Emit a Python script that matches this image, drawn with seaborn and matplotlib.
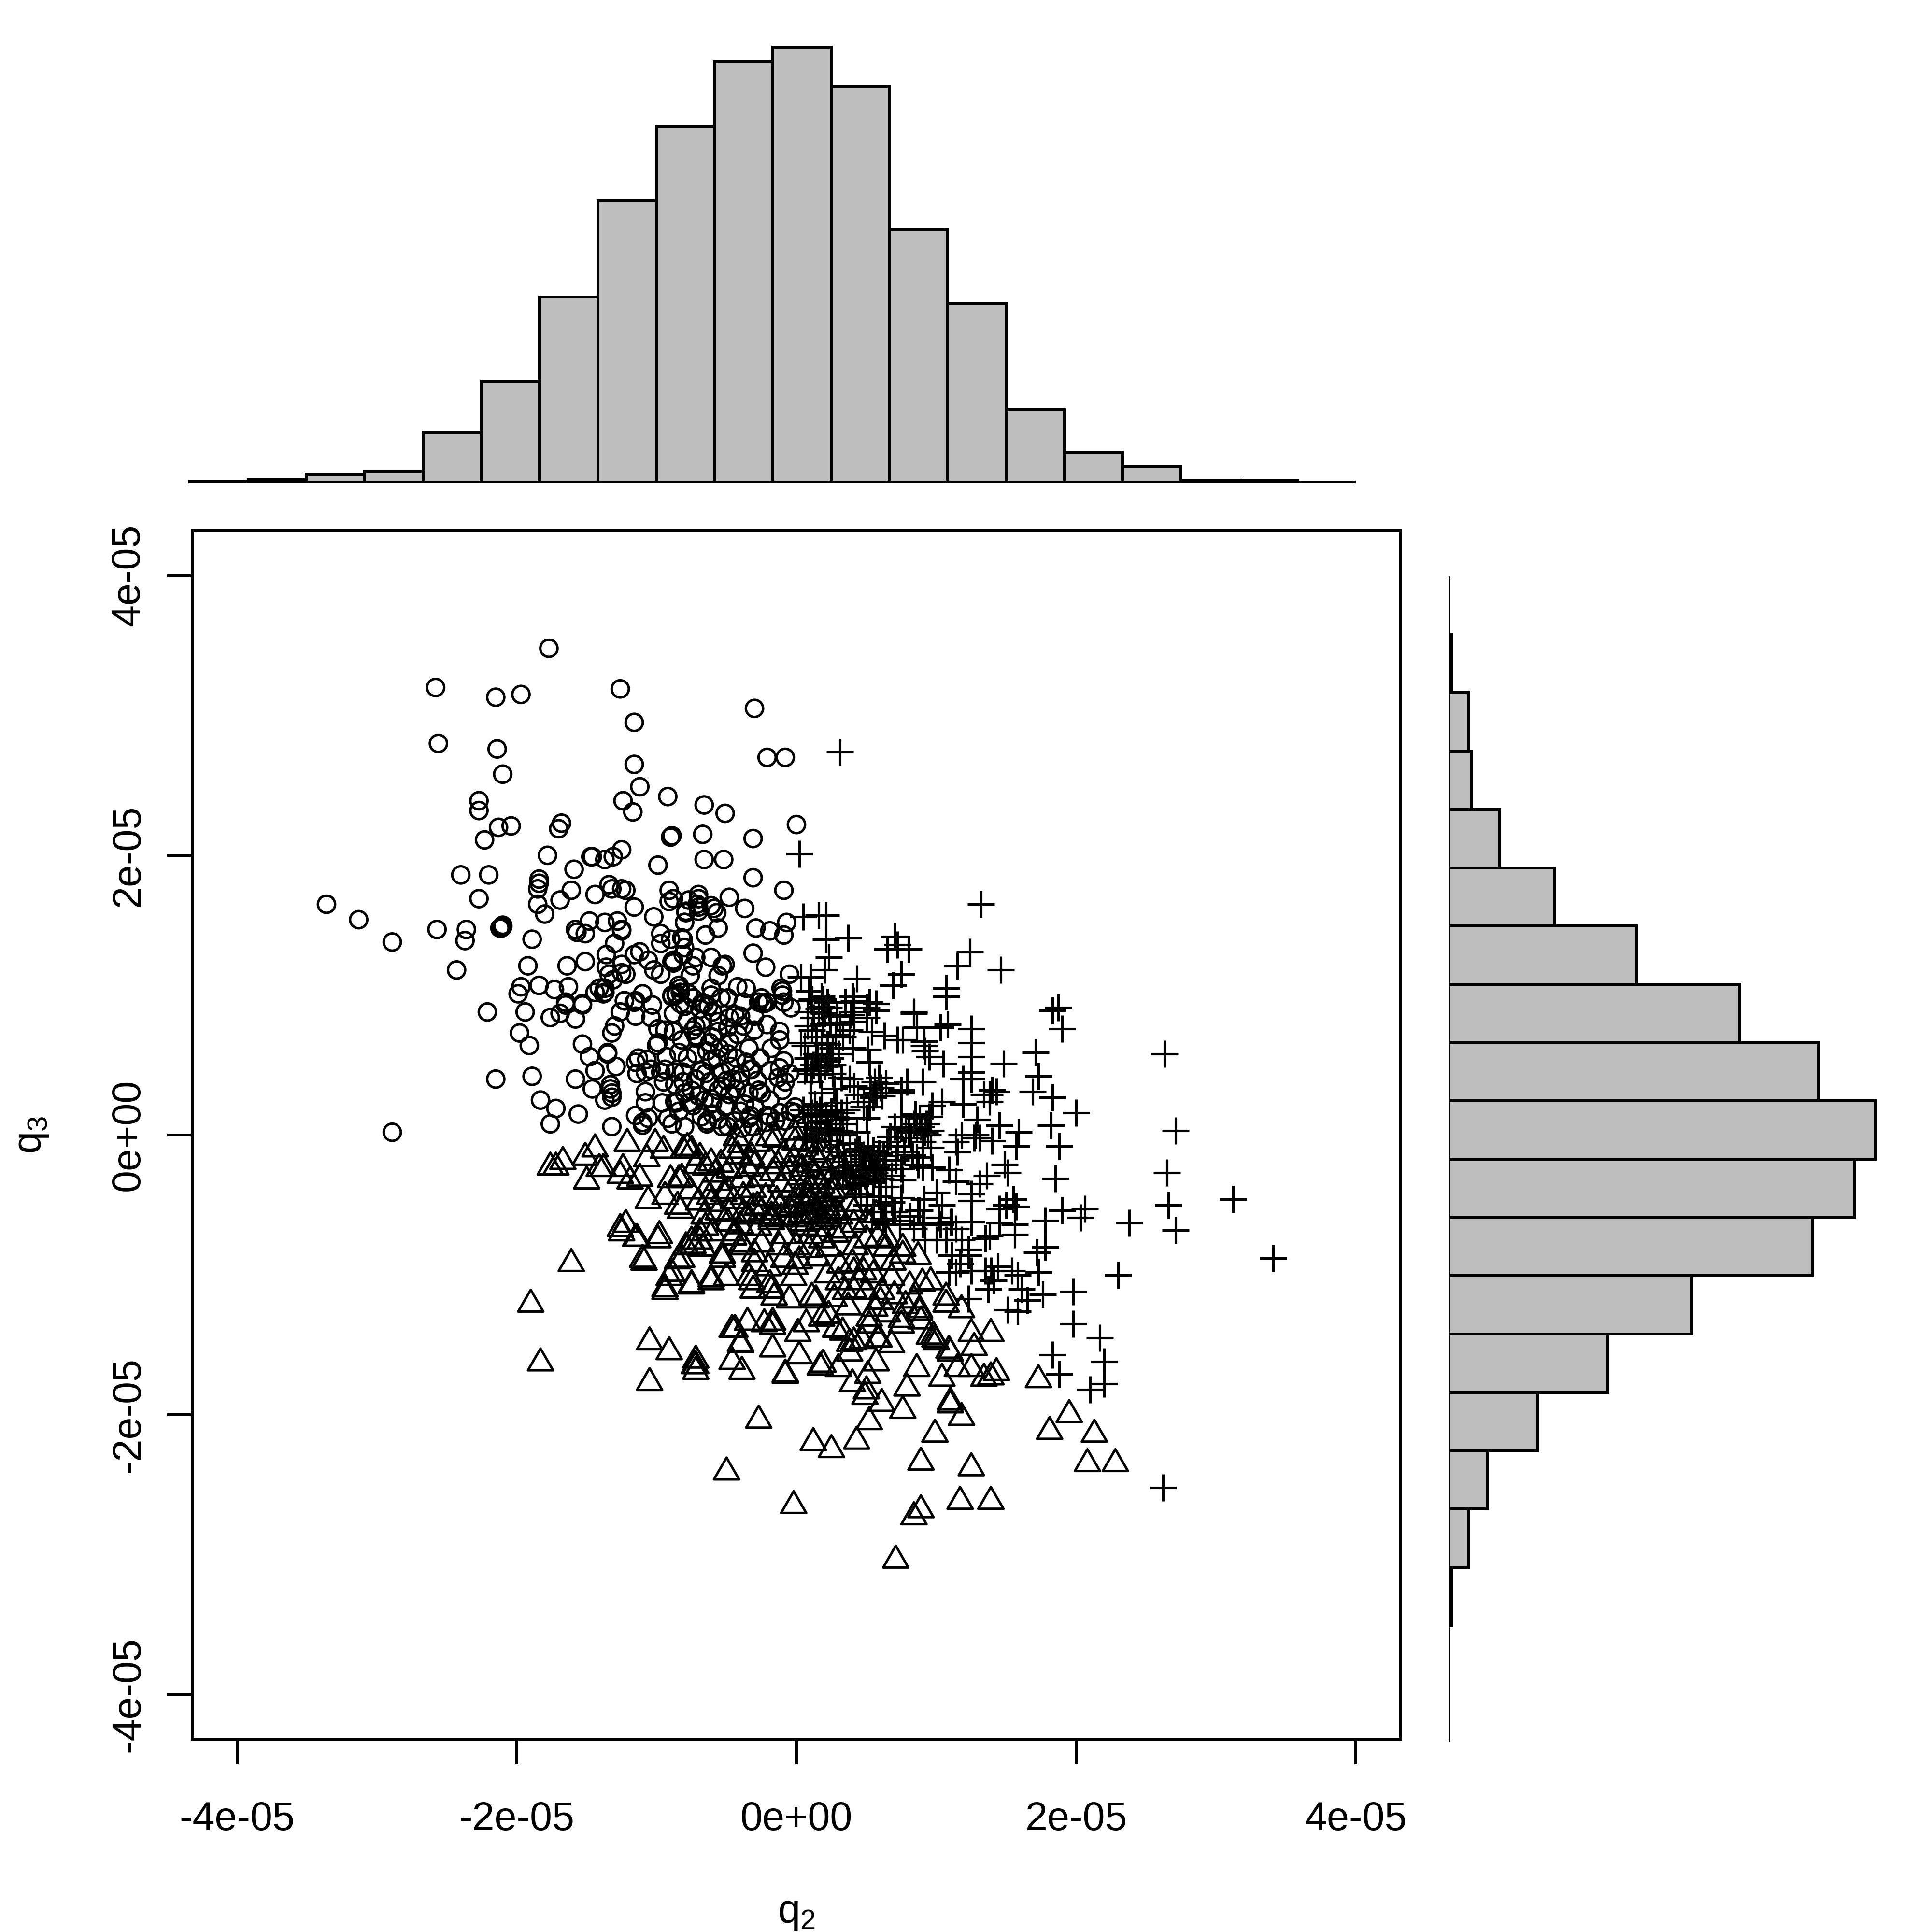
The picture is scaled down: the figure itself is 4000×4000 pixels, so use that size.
import matplotlib
import matplotlib.pyplot as plt
import seaborn as sns
import pandas as pd
import numpy as np
from matplotlib.path import Path

matplotlib.use('Agg')

# points, (q2, q3) in units of 1e-5
circles = [
    (-1.77,3.48),(-2.58,3.20),(-2.15,3.13),(-1.97,3.15),(-1.26,3.19),(-1.16,2.95),(-2.56,2.80),(-2.14,2.76),
    (-2.10,2.58),(-1.16,2.65),(-1.12,2.49),(-0.92,2.42),(-1.24,2.39),(-1.17,2.31),(-2.27,2.39),(-2.27,2.32),
    (-2.13,2.20),(-2.04,2.21),(-2.23,2.11),(-1.68,2.23),(-1.70,2.19),(-0.90,2.13),(-1.78,2.00),(-1.46,1.99),
    (-1.47,1.99),(-1.37,1.97),(-1.31,1.99),(-1.25,2.04),(-0.99,1.93),(-1.59,1.90),(-2.40,1.86),(-2.20,1.86),
    (-1.84,1.83),(-1.84,1.80),(-1.85,1.76),(-1.61,1.75),(-1.34,1.79),(-1.32,1.76),(-1.25,1.76),(-1.22,1.75),
    (-1.44,1.72),(-1.69,1.68),(-2.27,1.69),(-0.91,1.75),(-0.88,1.69),(-0.91,1.67),(-1.16,1.63),(-1.85,1.65),
    (-1.80,1.58),(-1.02,1.56),(-3.36,1.65),(-3.13,1.54),(-2.89,1.38),(-2.57,1.47),(-2.36,1.47),(-2.37,1.39),
    (-2.10,1.50),(-2.11,1.48),(-2.12,1.48),(-2.10,1.49),(-1.89,1.40),(-1.48,1.53),(-1.37,1.52),(-1.28,1.53),
    (-1.58,1.47),(-1.57,1.45),(-1.51,1.44),(-1.25,1.47),(-1.25,1.46),(-1.30,1.37),(-0.97,1.44),(-0.97,1.37),
    (-0.90,1.40),(-0.81,1.40),(-0.80,1.52),(-0.79,1.60),(-1.12,1.31),(-1.16,1.29),(-1.36,1.29),(-1.06,1.25),
    (-1.36,1.20),(-1.25,1.22),(-1.51,1.24),(-1.64,1.21),(-1.92,1.21),(-2.43,1.18),(-0.88,1.25),(-0.88,1.23),
    (-0.89,1.24),(-1.02,1.18),(-0.97,1.15),(-1.22,1.15),(-1.25,1.16),(-1.34,1.15),(-1.31,1.11),(-1.37,1.05),
    (-1.41,1.05),(-1.37,1.02),(-1.97,1.06),(-1.99,1.01),(-1.84,1.07),(-1.73,1.04),(-1.63,1.06),(-0.84,1.07),
    (-0.89,1.00),(-0.86,1.01),(-0.83,1.02),(-1.10,1.01),(-1.23,0.96),(-1.16,0.95),(-1.65,0.95),(-1.53,0.94),
    (-2.21,0.88),(-1.94,0.88),(-1.76,0.84),(-1.69,0.87),(-1.65,0.93),(-1.53,0.93),(-1.58,0.83),(-1.98,0.73),
    (-1.91,0.64),(-1.53,0.65),(-1.48,0.56),(-1.35,0.59),(-1.35,0.58),(-1.29,0.49),(-1.44,0.46),(-1.58,0.40),
    (-2.15,0.40),(-1.89,0.42),(-1.46,0.33),(-1.33,0.36),(-1.33,0.33),(-1.32,0.30),(-1.32,0.27),(-1.37,0.25),
    (-1.83,0.25),(-1.72,0.19),(-1.56,0.15),(-1.76,0.08),(-1.32,0.06),(-1.15,0.14),(-1.06,0.12),(-1.10,0.07),
    (-1.10,0.09),(-1.08,0.23),(-1.08,0.31),(-0.92,0.12),(-0.89,0.08),(-0.80,0.06),(-0.96,0.23),(-0.87,0.24),
    (-0.86,0.23),(-0.74,0.21),(-0.77,0.23),(-0.64,0.08),(-0.64,0.10),(-0.61,0.26),(-0.66,0.25),(-0.60,0.23),
    (-0.53,0.35),(-0.51,0.20),(-0.53,0.06),(-1.30,0.78),(-1.32,0.73),(-1.23,0.96),(-1.26,0.88),(-1.15,0.85),
    (-1.15,0.96),(-1.04,0.84),(-1.03,0.93),(-0.99,0.76),(-0.88,0.74),(-0.88,0.87),(-1.00,0.64),(-0.99,0.66),
    (-0.84,0.59),(-0.93,0.56),(-1.13,0.55),(-1.07,0.54),(-1.15,0.52),(-1.14,0.44),(-1.08,0.45),(-1.04,0.47),
    (-0.97,0.45),(-0.94,0.47),(-0.95,0.38),(-0.87,0.36),(-0.81,0.45),(-0.87,0.45),(-0.81,0.38),(-0.72,0.78),
    (-0.72,0.71),(-0.71,0.69),(-0.74,0.75),(-0.56,0.74),(-0.56,0.81),(-0.65,0.44),(-0.68,0.46),(-0.61,0.53),
    (-0.57,0.55),(-0.86,1.00),(-0.89,0.99),(-0.74,0.98),(-0.63,0.92),(-0.66,0.94),(-0.69,0.90),(-1.38,1.01),
    (-1.44,1.02),(-0.30,3.05),(-0.21,2.70),(-0.08,2.70),(-0.66,2.36),(-0.51,2.30),(0.00,2.22),(-0.67,2.15),
    (-0.31,2.12),(-0.66,1.97),(-0.52,1.97),(-0.31,1.84),(-0.09,1.75),(-0.89,2.14),(-0.70,1.72),(-0.70,1.69),
    (-0.71,1.65),(-0.77,1.68),(-0.70,1.60),(-0.70,1.63),(-0.48,1.70),(-0.37,1.62),(-0.61,1.64),(-0.59,1.62),
    (-0.57,1.59),(-0.79,1.59),(-0.80,1.52),(-0.29,1.48),(-0.19,1.46),(-0.09,1.43),(-0.07,1.52),(-0.56,1.48),
    (-0.65,1.43),(-0.82,1.41),(-0.31,1.30),(-0.22,1.20),(-0.05,1.15),(-0.61,1.27),(-0.51,1.22),(-0.53,1.21),
    (-0.56,1.14),(-0.72,1.27),(-0.74,1.21),(-0.76,1.14),(-0.81,1.29),(-0.80,1.34),(-0.42,1.06),(-0.36,1.05),
    (-0.61,1.05),(-0.61,1.00),(-0.54,0.98),(-0.68,0.94),(-0.77,1.01),(-0.83,1.05),(-0.83,0.94),(-0.11,1.05),
    (-0.10,1.03),(-0.10,1.00),(-0.27,0.95),(-0.24,0.94),(-0.21,0.95),(-0.04,0.91),(-0.09,0.95),(-0.23,0.94),
    (-0.25,0.98),(-0.38,0.95),(-0.40,0.85),(-0.21,0.79),(-0.12,0.74),(-0.12,0.68),(-0.49,0.98),(-0.49,0.77),
    (-0.34,0.62),(-0.18,0.62),(-0.48,0.67),(-0.49,0.58),(-0.33,0.47),(-0.32,0.47),(-0.47,0.49),(-0.09,0.53),
    (-0.12,0.48),(-0.08,0.38),(-0.10,0.32),(-0.05,0.44),(-0.27,0.32),(-0.43,0.33),(-0.48,0.29),(-0.01,0.16),
    (-0.04,0.17),(-0.01,0.20),(-0.21,0.14),(-0.19,0.13),(-0.34,0.12),(-0.33,0.14),(-0.40,0.17),(-0.49,0.06),
    (-0.50,0.21),(-0.22,0.09),(-0.31,0.06),(-0.39,0.05),(-0.25,0.30),(-0.28,0.39),(-0.50,0.39),(-0.41,0.39),
    (-0.19,0.46),(-0.13,0.41),(-0.19,0.25),(-2.89,0.02),(-0.62,0.66),(-0.55,0.62),(-0.60,0.70),(-0.42,0.72),
    (-0.38,0.78),(-0.30,0.85),(-0.44,0.86),(-0.30,0.75),(-0.26,0.55),(-0.36,0.52),(-0.43,0.55),(-0.54,0.45),
    (-0.40,0.44),(-0.46,0.40),(-0.56,0.32),(-0.62,0.38),(-0.34,0.30),(-0.37,0.22),(-0.44,0.10),(-0.30,0.20),
    (-0.15,0.10),(-0.12,0.16),(-0.08,0.10),(-0.72,0.40),(-0.75,0.32),(-0.70,0.28),(-0.80,0.30),(-0.84,0.17),
    (-0.60,0.15),(-0.68,0.13),(-0.56,0.11),(-0.72,0.58),(-0.78,0.55),(-0.82,0.68),(-0.64,0.60),(-0.67,0.82),
    (-0.48,0.84),(-0.60,0.88),(-0.94,0.75),(-0.78,0.82),(-0.80,0.92),
]

triangles = [
    (-1.76,-0.23),(-1.72,-0.23),(-1.67,-0.19),(-1.51,-0.16),(-1.44,-0.10),(-1.41,-0.24),(-1.38,-0.24),(-1.50,-0.33),
    (-1.21,-0.06),(-1.01,-0.06),(-0.95,-0.11),(-1.07,-0.17),(-1.24,-0.24),(-1.26,-0.29),(-1.19,-0.33),(-1.12,-0.31),
    (-1.06,-0.47),(-0.94,-0.44),(-0.90,-0.32),(-0.84,-0.32),(-0.82,-0.31),(-0.85,-0.51),(-0.83,-0.54),(-0.78,-0.09),
    (-0.81,-0.11),(-0.75,-0.11),(-0.69,-0.16),(-0.65,-0.23),(-0.61,-0.20),(-0.65,-0.40),(-0.62,-0.44),(-0.61,-0.49),
    (-0.56,-0.34),(-1.22,-0.64),(-1.26,-0.67),(-1.25,-0.70),(-1.14,-0.74),(-0.99,-0.75),(-0.65,-0.66),(-0.69,-0.70),
    (-1.61,-0.92),(-1.90,-1.21),(-1.83,-1.63),(-1.09,-0.91),(-1.15,-0.74),(-0.79,-0.80),(-0.85,-0.90),(-0.91,-1.02),
    (-0.94,-1.12),(-0.75,-1.08),(-0.61,-1.05),(-0.69,-0.76),(-0.74,-0.79),(-0.53,-0.89),(-0.53,-0.86),(-1.05,-1.48),
    (-0.91,-1.55),(-0.72,-1.65),(-0.72,-1.69),(-0.73,-1.65),(-1.05,-1.77),(-0.46,-1.62),(-0.39,-1.69),(-0.44,-1.39),
    (-0.35,-1.34),(-0.40,-1.49),(-0.50,-2.41),(-0.27,-2.04),(0.12,-2.20),(0.25,-2.25),(0.43,-2.19),(0.52,-2.05),
    (0.61,-1.92),(0.76,-1.97),(0.99,-2.14),(0.86,-1.67),(0.79,-1.81),(1.04,-1.74),(1.10,-1.91),(1.10,-1.93),
    (1.18,-2.02),(0.57,-1.63),(0.40,-1.78),(0.51,-1.72),(0.49,-1.87),(0.50,-1.83),(0.30,-1.67),(0.19,-1.64),
    (0.17,-1.66),(-0.08,-1.72),(0.02,-1.58),(-0.17,-1.53),(-0.40,-1.50),(-0.46,-1.39),(-0.17,-1.37),(-0.23,-1.35),
    (-0.17,-1.34),(0.01,-1.42),(0.33,-1.41),(0.28,-1.39),(0.68,-1.50),(0.58,-1.46),(0.47,-1.47),(0.59,-1.46),
    (0.52,-1.31),(0.52,-1.36),(0.38,-1.49),(0.38,-1.56),(0.41,-1.48),(0.75,-1.36),(0.89,-1.33),(0.75,-1.32),
    (0.88,-1.27),(0.88,-1.25),(0.95,-1.44),(1.00,-1.48),(0.99,-1.46),(1.10,-1.56),(1.09,-1.54),(1.15,-1.67),
    (1.07,-1.21),(1.07,-1.16),(1.18,-1.25),(0.96,-1.05),(0.87,-0.87),(0.76,-0.86),(0.90,-1.06),(0.81,-1.08),
    (0.84,-1.18),(0.60,-1.19),(0.37,-1.23),(0.41,-1.11),(0.61,-1.12),(0.50,-1.12),(0.22,-1.00),(0.11,-1.16),
    (0.14,-1.18),(0.18,-1.31),(0.23,-1.29),(0.07,-1.35),(-0.05,-1.18),(-0.16,-1.16),(-0.02,-1.02),(-0.01,-0.94),
    (-0.09,-0.89),(-0.18,-1.11),(-0.34,-1.02),(-0.31,-1.11),(0.09,-0.82),(-0.09,-0.72),(-0.18,-0.62),(-0.38,-0.80),
    (0.40,-0.92),(0.41,-0.98),(0.51,-0.91),(0.48,-0.98),(0.31,-0.93),(0.23,-0.81),(0.28,-0.71),(0.41,-0.64),
    (0.64,-0.81),(0.69,-0.91),(0.76,-0.81),(0.50,-0.75),(0.58,-0.74),(0.65,-0.75),(0.42,-0.80),(0.34,-0.68),
    (-0.11,-0.59),(-0.27,-0.66),(-0.40,-0.65),(-0.45,-0.73),(-0.49,-0.63),(-0.38,-0.56),(-0.28,-0.51),(-0.18,-0.58),
    (0.06,-0.66),(0.12,-0.51),(0.22,-0.54),(-0.02,-0.60),(0.03,-0.57),(0.16,-0.67),(0.18,-0.58),(-0.15,-0.03),
    (-0.43,-0.02),(-0.40,-0.07),(-0.28,-0.06),(-0.20,-0.02),(-0.02,0.02),(-0.01,-0.05),(-0.32,-0.16),(-0.19,-0.18),
    (-0.09,-0.14),(0.18,-0.12),(0.11,-0.06),(0.31,-0.21),(0.27,-0.18),(-0.39,-0.32),(-0.31,-0.39),(-0.17,-0.27),
    (-0.05,-0.27),(0.04,-0.24),(0.13,-0.30),(0.22,-0.26),(0.36,-0.33),(0.44,-0.39),(-0.03,-0.39),(-0.11,-0.35),
    (-0.49,-0.40),(-0.45,-0.47),(-0.31,-0.52),(-0.22,-0.45),(-0.18,-0.60),(-0.08,-0.59),(0.06,-0.51),(0.20,-0.45),
    (0.22,-0.52),(0.07,-0.43),(0.11,-0.39),(0.29,-0.33),(0.27,-0.40),(0.33,-0.39),(-0.48,-0.56),(0.46,-0.29),
    (0.41,-0.55),(0.31,-0.58),(0.50,-0.62),(0.57,-0.57),(0.38,-0.49),(0.18,-0.62),(0.04,-0.63),(0.14,-0.57),
    (-1.10,-0.89),(-0.98,-0.72),(-0.89,-0.99),(-0.94,-1.10),(-0.82,-0.89),(-0.75,-0.76),(-0.67,-0.81),(-0.60,-0.70),
    (-0.44,-0.70),(-0.50,-1.02),(-0.75,-1.07),(-0.61,-1.03),(-0.39,-0.78),(-0.32,-1.05),(-0.19,-1.07),(-0.30,-0.92),
    (0.71,-3.04),(0.89,-2.68),(0.84,-2.73),(1.17,-2.62),(1.39,-2.62),(-0.02,-2.65),(0.89,-2.34),(1.25,-2.38),
    (2.08,-2.35),(2.28,-2.35),(1.81,-2.12),(1.95,-2.00),(2.13,-2.14),(1.73,-1.75),(1.34,-1.74),(1.39,-1.73),
    (1.43,-1.70),(1.25,-1.67),(1.27,-1.52),(1.39,-1.42),(1.25,-1.42),(0.98,-1.44),(-0.72,-1.61),(-0.08,-1.71),
    (0.02,-0.10),(0.06,-0.16),(0.09,-0.21),(0.13,-0.14),(0.16,-0.20),(0.02,-0.30),(0.07,-0.33),(0.18,-0.36),
    (0.24,-0.33),(0.10,-0.47),(0.16,-0.49),(0.03,-0.45),(-0.02,-0.50),(0.25,-0.42),(0.23,-0.60),(0.28,-0.55),
    (0.08,-0.58),(-0.35,-0.24),(-0.30,-0.22),(-0.25,-0.31),(-0.13,-0.22),(-0.02,-0.17),(-0.38,-0.44),(-0.14,-0.47),
    (-0.25,-0.55),(-0.35,-0.58),(-0.12,-0.52),(-0.05,-0.53),(-0.42,-0.15),(-0.48,-0.25),(-0.46,-0.11),(-0.54,-0.21),
    (-0.58,-0.28),(-0.52,-0.42),(-0.56,-0.55),(-0.72,-0.22),(-0.76,-0.40),(-0.70,-0.48),(-0.66,-0.58),(0.10,-0.72),
    (0.18,-0.75),(0.00,-0.80),(-0.25,-0.78),(-0.30,-0.85),(-0.20,-0.95),(-0.12,-0.80),(0.02,-0.90),(0.15,-0.88),
    (0.30,-1.05),(0.35,-1.12),(0.27,-1.17),(0.45,-1.05),(0.55,-1.00),(0.68,-1.02),(0.70,-1.15),(0.78,-1.22),
    (0.65,-1.28),(0.56,-1.24),
]

pluses = [
    (2.63,0.58),(2.71,0.03),(2.65,-0.27),(3.12,-0.46),(2.66,-0.50),(2.71,-0.68),(2.38,-0.63),(3.41,-0.88),
    (2.30,-1.00),(1.87,0.91),(1.83,0.89),(1.90,0.76),(1.71,0.59),(1.48,0.51),(1.73,0.42),(1.69,0.31),
    (1.83,0.27),(2.00,0.16),(1.82,0.07),(1.59,0.02),(1.57,-0.08),(1.45,0.07),(1.88,-0.08),(1.25,0.76),
    (1.25,0.66),(1.25,0.56),(1.25,0.45),(1.25,0.40),(1.40,0.32),(1.43,0.31),(1.38,0.29),(1.34,0.29),
    (1.38,0.24),(1.29,0.11),(1.28,0.00),(1.27,-0.02),(1.31,-0.02),(1.40,-0.04),(1.49,-0.21),(1.51,-0.27),
    (1.36,-0.29),(1.31,-0.35),(1.85,-0.31),(1.25,-0.42),(1.25,-0.47),(1.55,-0.46),(1.50,-0.50),(1.57,-0.51),
    (1.45,-0.53),(1.90,-0.54),(2.06,-0.53),(2.03,-0.59),(1.78,-0.61),(1.56,-0.64),(1.56,-0.71),(1.45,-0.63),
    (1.35,-0.74),(1.38,-0.72),(1.25,-0.62),(1.78,-0.80),(1.72,-0.84),(1.23,-0.82),(1.23,-0.86),(1.44,-0.94),
    (1.39,-0.97),(1.35,-0.97),(1.54,-0.97),(1.58,-1.00),(1.41,-1.04),(1.73,-0.98),(1.37,-1.10),(1.61,-1.10),
    (1.76,-1.14),(1.98,-1.12),(1.65,-1.18),(1.58,-1.26),(1.51,-1.25),(1.23,-1.17),(1.25,-0.97),(1.98,-1.35),
    (2.17,-1.45),(1.83,-1.57),(1.88,-1.71),(2.20,-1.62),(2.20,-1.78),(2.10,-1.82),(2.62,-2.52),(0.31,2.74),
    (0.02,2.01),(1.32,1.65),(0.05,1.56),(0.16,1.57),(0.21,1.57),(0.21,1.40),(0.37,1.41),(0.23,1.27),
    (0.70,1.42),(0.72,1.36),(0.65,1.33),(0.80,1.33),(1.24,1.31),(1.15,1.21),(1.46,1.18),(0.75,1.15),
    (0.69,1.07),(0.43,1.12),(0.20,1.18),(0.10,1.13),(0.03,1.13),(1.07,1.05),(0.18,0.99),(0.09,1.03),
    (0.11,0.97),(0.10,0.96),(0.22,0.95),(0.40,0.99),(0.35,0.95),(0.52,0.95),(0.57,0.94),(0.84,0.88),
    (0.57,0.89),(0.40,0.88),(0.84,0.87),(1.07,0.99),(0.86,0.77),(1.08,0.79),(1.03,0.77),(0.76,0.68),
    (0.72,0.68),(0.63,0.71),(0.54,0.74),(0.51,0.61),(0.52,0.52),(0.92,0.60),(0.91,0.64),(0.95,0.56),
    (1.05,0.51),(0.91,0.67),(1.19,0.40),(1.19,0.22),(0.90,0.38),(0.79,0.38),(0.75,0.32),(0.75,0.30),
    (0.64,0.37),(0.56,0.38),(0.59,0.41),(0.41,0.35),(0.44,0.29),(0.48,0.24),(0.48,0.20),(0.52,0.20),
    (0.27,0.33),(0.26,0.44),(0.18,0.30),(0.10,0.38),(0.11,0.46),(0.16,0.48),(0.06,0.46),(0.22,0.53),
    (0.14,0.58),(0.18,0.66),(0.06,0.64),(0.03,0.66),(0.11,0.75),(0.19,0.79),(0.41,0.96),(0.39,0.86),
    (0.50,0.91),(0.50,0.84),(0.41,0.81),(0.38,0.75),(0.29,0.85),(0.23,0.91),(0.19,0.97),(0.11,0.97),
    (0.18,0.92),(0.31,0.79),(1.04,0.24),(0.97,0.21),(0.85,0.15),(0.95,0.13),(0.88,0.12),(0.75,0.13),
    (0.96,0.03),(0.92,0.02),(0.80,0.02),(0.75,0.05),(0.84,0.08),(1.15,-0.12),(1.14,-0.05),(1.18,0.00),
    (0.96,-0.09),(0.65,-0.05),(0.72,-0.08),(0.77,-0.12),(0.83,-0.14),(0.86,-0.16),(0.71,-0.18),(0.64,-0.21),
    (0.59,-0.13),(0.57,-0.23),(0.54,-0.17),(0.59,-0.29),(0.68,-0.29),(0.75,-0.24),(0.87,-0.21),(0.90,-0.23),
    (0.97,-0.23),(1.09,-0.25),(1.14,-0.33),(1.00,-0.41),(1.04,-0.50),(0.91,-0.46),(0.87,-0.54),(0.75,-0.45),
    (0.76,-0.32),(0.64,-0.37),(0.59,-0.44),(0.81,-0.58),(0.74,-0.64),(0.64,-0.55),(0.64,-0.64),(0.90,-0.64),
    (1.10,-0.62),(1.03,-0.64),(0.43,0.02),(0.50,0.12),(0.36,0.18),(0.29,0.23),(0.18,0.21),(0.11,0.16),
    (0.06,0.06),(0.22,0.08),(0.33,0.08),(0.23,0.02),(0.33,0.00),(0.38,-0.06),(0.42,-0.12),(0.49,-0.17),
    (0.07,-0.01),(0.12,-0.03),(0.20,0.00),(0.29,-0.07),(0.34,-0.15),(0.39,-0.21),(0.36,-0.26),(0.45,-0.25),
    (0.49,-0.29),(0.88,-0.54),(0.91,-0.63),(1.02,-0.59),(1.11,-0.62),(1.07,-0.75),(1.00,-0.75),(0.92,-0.75),
    (1.14,-0.67),(1.11,-0.86),(1.14,-0.98),(1.09,-0.98),(1.17,-0.92),(1.18,-0.75),(0.84,-0.67),(0.74,-0.61),
    (0.69,-0.55),(0.08,0.55),(0.12,0.50),(0.15,0.57),(0.20,0.49),(0.24,0.55),(0.10,0.44),(0.17,0.43),
    (0.26,0.50),(0.07,0.47),(0.05,0.18),(0.10,0.20),(0.14,0.15),(0.17,0.18),(0.21,0.14),(0.25,0.17),
    (0.28,0.13),(0.32,0.16),(0.36,0.12),(0.08,0.13),(0.13,0.22),(0.45,-0.10),(0.48,-0.14),(0.51,-0.08),
    (0.55,-0.11),(0.58,-0.18),(0.62,-0.15),(0.47,-0.22),(0.52,-0.24),(0.56,-0.27),(0.60,-0.31),(0.50,-0.32),
    (0.45,-0.35),(0.55,-0.34),(0.62,-0.25),(0.53,0.33),(0.57,0.30),(0.60,0.34),(0.55,0.27),(0.61,0.28),
    (0.70,0.06),(0.78,0.04),(0.82,-0.02),(0.89,0.06),(0.94,0.00),(0.90,-0.05),(0.86,0.04),(0.93,0.08),
    (0.67,-0.01),(0.10,0.09),(0.14,0.04),(0.17,0.10),(0.25,0.05),(0.28,0.11),(0.31,0.03),(0.15,-0.05),
    (0.24,-0.04),(0.30,-0.12),(0.35,-0.19),(0.40,-0.30),(0.46,-0.42),(0.42,-0.36),(0.33,-0.28),(0.50,-0.50),
    (0.55,-0.55),(0.60,-0.50),(0.68,-0.48),(0.70,-0.55),(0.62,-0.60),(0.54,-0.62),(0.08,0.88),(0.12,0.84),
    (0.16,0.90),(0.20,0.87),(0.24,0.80),(0.28,0.72),(0.33,0.70),(0.14,0.70),(0.26,0.62),(0.30,0.58),
    (0.22,0.65),(0.08,0.78),(0.40,0.62),(0.32,0.41),(0.38,0.40),
]

q2_edges = [-4.337, -3.920, -3.503, -3.086, -2.669, -2.252, -1.835, -1.418, -1.001, -0.584, -0.167,
            0.250, 0.667, 1.084, 1.501, 1.918, 2.335, 2.752, 3.169, 3.586, 4.003]
q2_heights = [2, 5, 16, 22, 103, 209, 383, 582, 737, 870, 900, 819, 523, 370, 150, 61, 33, 4, 3, 0]
q3_edges = [-4.340, -3.923, -3.506, -3.089, -2.672, -2.255, -1.838, -1.421, -1.004, -0.587, -0.170,
            0.247, 0.664, 1.081, 1.498, 1.915, 2.332, 2.749, 3.166, 3.583, 4.000]
# listed from the lowest bin to the highest
q3_heights = [0, 0, 6, 41, 80, 185, 330, 504, 754, 840, 884, 766, 603, 389, 220, 106, 47, 41, 6, 0]

tick_vals = [-4e-5, -2e-5, 0, 2e-5, 4e-5]
tick_labels = ['-4e-05', '-2e-05', '0e+00', '2e-05', '4e-05']

sns.set_style('ticks', rc={'axes.edgecolor': 'black', 'text.color': 'black', 'xtick.color': 'black',
                           'ytick.color': 'black', 'axes.labelcolor': 'black'})
plt.rcParams['font.family'] = ['Liberation Sans', 'DejaVu Sans']
plt.rcParams['mathtext.fontset'] = 'custom'
plt.rcParams['mathtext.rm'] = 'Liberation Sans'

LW = 1.08
MLW = 0.92
FS = 14.9
GREY = '#BEBEBE'

fig = plt.figure(figsize=(10, 10), dpi=400)

# fig.add_axes from pixel box
def px_axes(left, top, right, bottom):
    return fig.add_axes([left / 4000, 1 - bottom / 4000, (right - left) / 4000, (bottom - top) / 4000])

# R style triangle, pch 2
tri = Path([(0, 1), (-0.866, -0.5), (0.866, -0.5), (0, 1)],
           [Path.MOVETO, Path.LINETO, Path.LINETO, Path.CLOSEPOLY])

ax = px_axes(398, 1099, 2900, 3601)
df_c = pd.DataFrame(circles, columns=['q2', 'q3']) * 1e-5
df_t = pd.DataFrame(triangles, columns=['q2', 'q3']) * 1e-5
df_p = pd.DataFrame(pluses, columns=['q2', 'q3']) * 1e-5
sns.scatterplot(data=df_c, x='q2', y='q3', marker='o', s=41, facecolor='none', edgecolor='black', linewidth=MLW, ax=ax)
sns.scatterplot(data=df_t, x='q2', y='q3', marker=tri, s=117, facecolor='none', edgecolor='black', linewidth=MLW, ax=ax)
sns.scatterplot(data=df_p, x='q2', y='q3', marker='+', s=105, color='black', linewidth=MLW, ax=ax)
ax.set_xlim(-4.32e-5, 4.32e-5)
ax.set_ylim(-4.32e-5, 4.32e-5)
ax.set_xticks(tick_vals)
ax.set_xticklabels(tick_labels)
ax.set_yticks(tick_vals)
ax.set_yticklabels(tick_labels, rotation=90, va='center')
ax.tick_params(axis='x', length=9.4, width=LW, labelsize=FS, pad=13.5)
ax.tick_params(axis='y', length=9.4, width=LW, labelsize=FS, pad=7.3)
ax.set_xlabel('')
ax.set_ylabel('')
for s in ax.spines.values():
    s.set_visible(True)
    s.set_linewidth(LW)

# top histogram
ax_top = px_axes(393, 97, 2807, 997.5)
q2_e = np.array(q2_edges)
sns.histplot(x=(q2_e[:-1] + q2_e[1:]) / 2, weights=q2_heights, bins=q2_edges, color=GREY, alpha=1,
             edgecolor='black', linewidth=LW, ax=ax_top)
ax_top.set_xlim(q2_e[0], q2_e[-1])
ax_top.set_ylim(0, 900.5)
ax_top.axis('off')
for p in ax_top.patches:
    p.set_clip_on(False)

# right histogram, the baseline is clipped by the axes like in the original
ax_right = px_axes(2999, 1193, 4000, 3607)
q3_e = np.array(q3_edges)
sns.histplot(y=(q3_e[:-1] + q3_e[1:]) / 2, weights=q3_heights, bins=q3_edges, color=GREY, alpha=1,
             edgecolor='black', linewidth=LW, ax=ax_right)
ax_right.set_ylim(q3_e[0], q3_e[-1])
ax_right.set_xlim(0, 1001)
ax_right.axis('off')

fig.text(1649 / 4000, 1 - 3981 / 4000, r'$\mathrm{q}_{2}$', fontsize=FS, ha='center', va='baseline')
fig.text(85 / 4000, 1 - 2350 / 4000, r'$\mathrm{q}_{3}$', fontsize=FS, rotation=90,
         ha='center', va='baseline', rotation_mode='anchor')

fig.savefig('out.png', dpi=400)
